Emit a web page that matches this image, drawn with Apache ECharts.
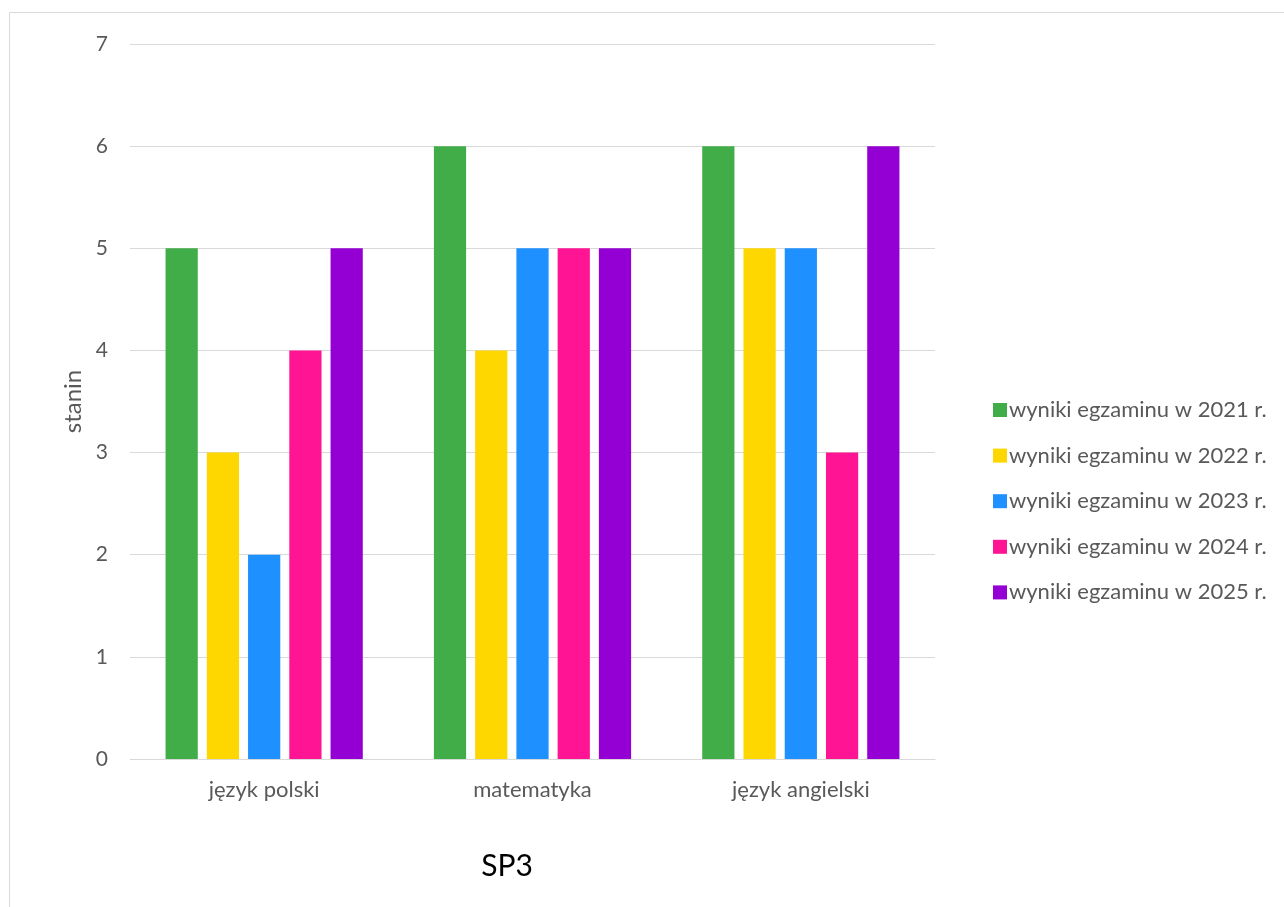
<!DOCTYPE html>
<html><head><meta charset="utf-8">
<script src="https://cdn.jsdelivr.net/npm/echarts@6/dist/echarts.min.js"></script>
<style>html,body{margin:0;padding:0;background:#fff}#c{width:1284px;height:907px}</style>
</head><body><div id="c"></div>
<script>
const categories = ['język polski', 'matematyka', 'język angielski'];
const seriesNames = ['wyniki egzaminu w 2021 r.', 'wyniki egzaminu w 2022 r.', 'wyniki egzaminu w 2023 r.', 'wyniki egzaminu w 2024 r.', 'wyniki egzaminu w 2025 r.'];
const v2021 = [5, 6, 6];
const v2022 = [3, 4, 5];
const v2023 = [2, 5, 5];
const v2024 = [4, 5, 3];
const v2025 = [5, 5, 6];
const colors = ['#41AD49', '#FFD700', '#1E90FF', '#FF1493', '#9400D3'];
const allValues = [v2021, v2022, v2023, v2024, v2025];
const font = 'Lato, "Open Sans", sans-serif';

const chart = echarts.init(document.getElementById('c'), null, {renderer: 'canvas'});
chart.setOption({
  animation: false,
  backgroundColor: '#fff',
  graphic: [
    {type: 'rect', shape: {x: 9.5, y: 12.5, width: 1300, height: 920}, style: {fill: 'none', stroke: '#d9d9d9', lineWidth: 1}, z: -1},
    {type: 'text', style: {text: 'SP3', x: 507, y: 866, textAlign: 'center', textVerticalAlign: 'middle', font: '30px ' + font, fill: '#000'}}
  ],
  grid: {left: 130, right: 349, top: 44, bottom: 148, containLabel: false},
  legend: {
    orient: 'vertical', left: 988, top: 394, itemWidth: 14, itemHeight: 14, itemGap: 23.6,
    icon: 'rect',
    textStyle: {fontFamily: font, fontSize: 22, color: '#595959', lineHeight: 21, padding: [0, 0, 0, -3]},
    data: seriesNames
  },
  xAxis: {
    type: 'category', data: categories,
    axisLine: {lineStyle: {color: '#d9d9d9', width: 1}},
    axisTick: {show: false},
    axisLabel: {fontFamily: font, fontSize: 22, color: '#595959', margin: 20}
  },
  yAxis: {
    type: 'value', min: 0, max: 7, interval: 1,
    name: 'stanin', nameLocation: 'middle', nameRotate: 90, nameGap: 45, nameMoveOverlap: false,
    nameTextStyle: {fontFamily: font, fontSize: 24, color: '#595959'},
    axisLine: {show: false}, axisTick: {show: false},
    splitLine: {lineStyle: {color: '#d9d9d9', width: 1}},
    axisLabel: {fontFamily: font, fontSize: 21, color: '#595959', margin: 22}
  },
  series: seriesNames.map((n, i) => ({
    name: n, type: 'bar', data: allValues[i],
    itemStyle: {color: colors[i]},
    barGap: '28%', barCategoryGap: '26.5%'
  }))
});
</script></body></html>
